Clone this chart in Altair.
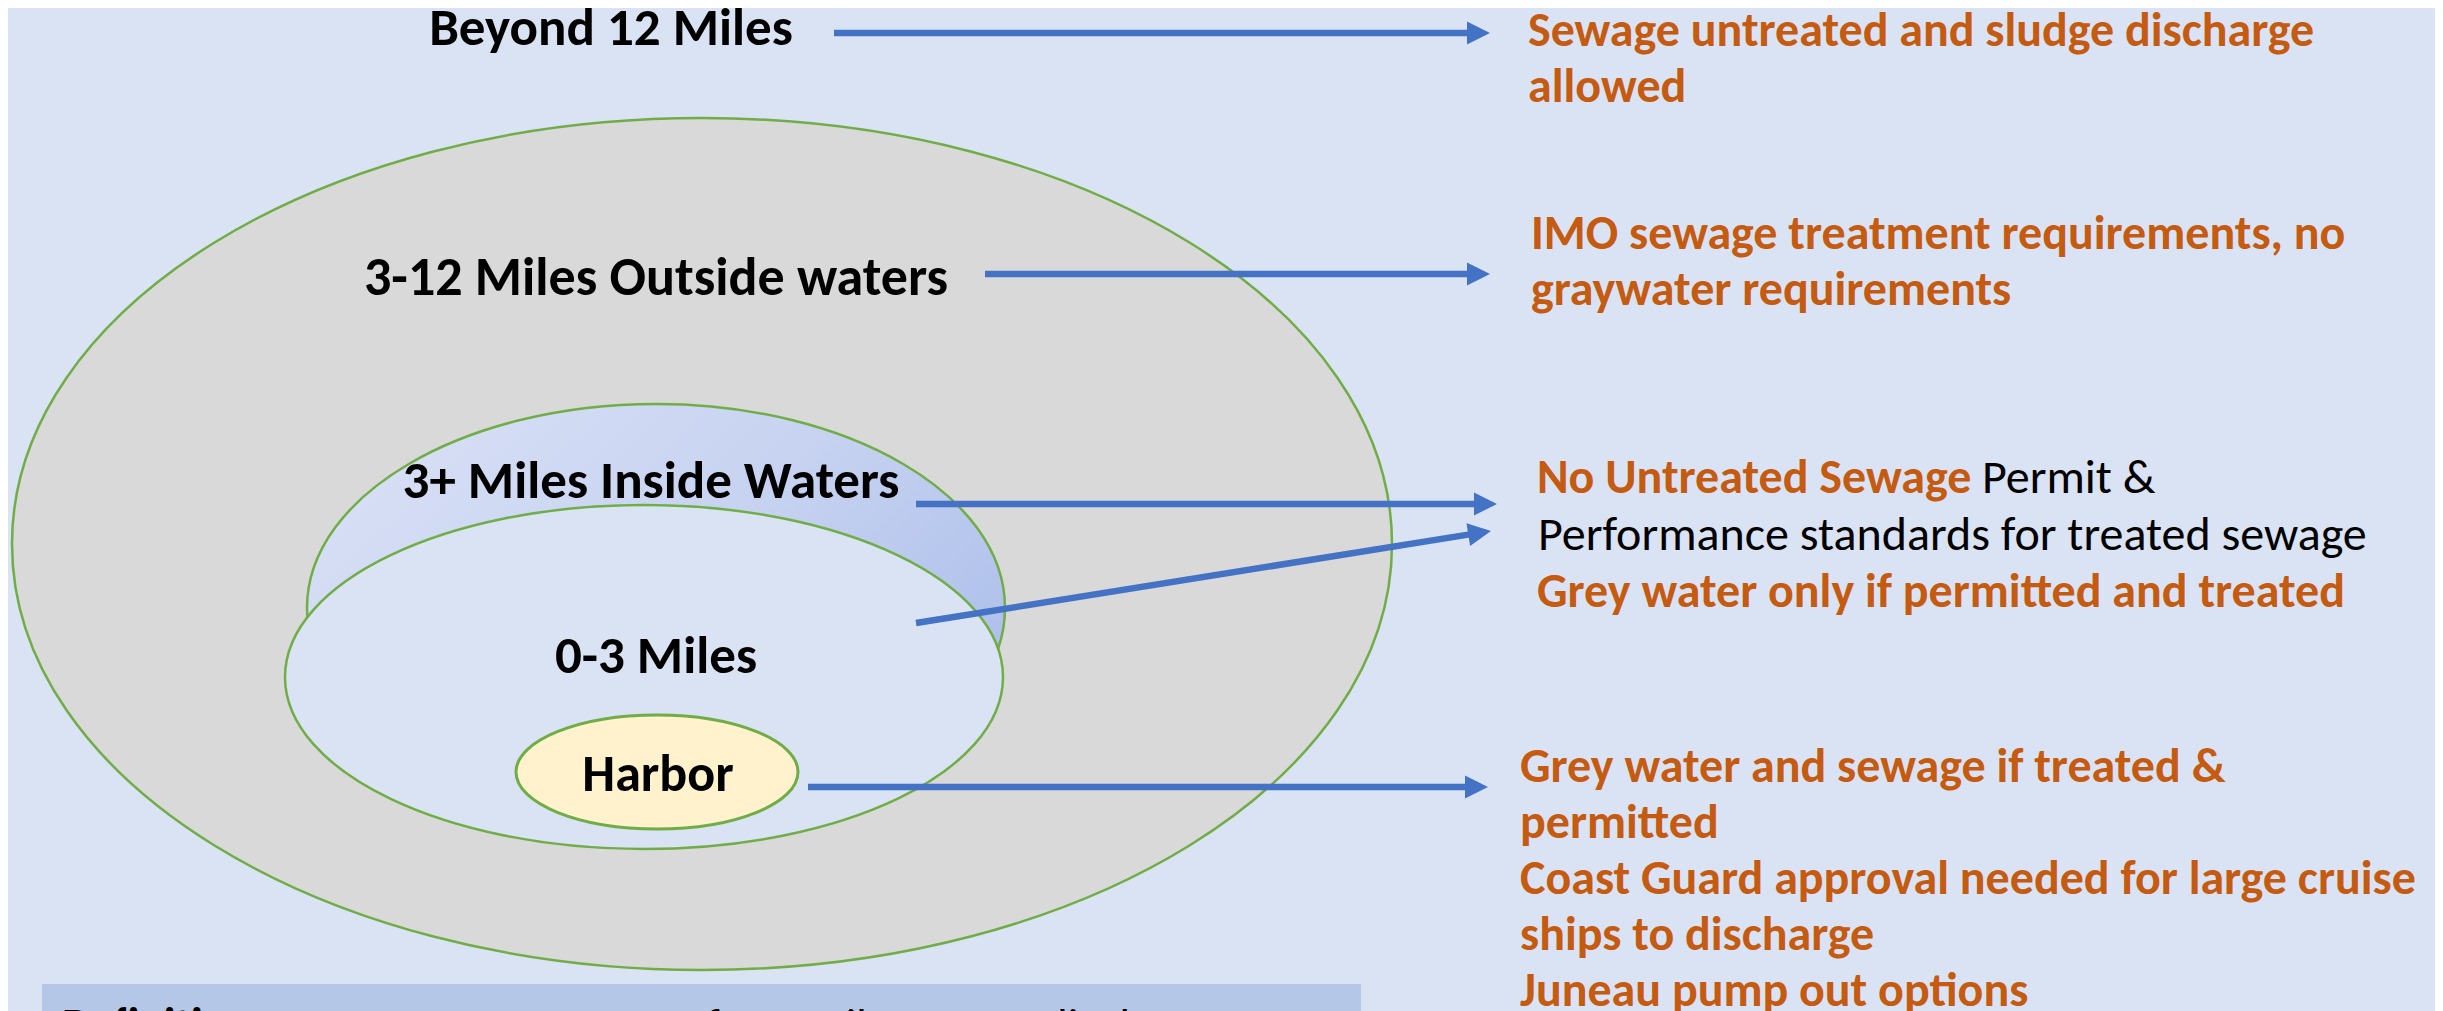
import math
import altair as alt
import pandas as pd

# ------------------------------------------------------------------ data
zone_labels = ["Beyond 12 Miles", "3-12 Miles Outside waters",
               "3+ Miles Inside Waters", "0-3 Miles", "Harbor"]

block1 = ["Sewage untreated and sludge discharge", "allowed"]
block2 = ["IMO sewage treatment requirements, no", "graywater requirements"]
block3_orange_a = "No Untreated Sewage"
block3_black_a = "Permit &"
block3_black_b = "Performance standards for treated sewage"
block3_orange_c = "Grey water only if permitted and treated"
block4 = ["Grey water and sewage if treated &", "permitted",
          "Coast Guard approval needed for large cruise",
          "ships to discharge", "Juneau pump out options"]
definition_bold = "Definitions:"
definition_text = "Sewage = wastewater from toilets or medical"

# ------------------------------------------------------------------ layout (reference pixel frame)
W, H = 2427, 1003
BG = "#DAE3F3"
GREY = "#D9D9D9"
GREEN = "#70AD47"
BLUE = "#4472C4"
ORANGE = "#C55A11"
HARBOR = "#FFF2CC"
DEFBOX = "#B4C7E7"
FONT = "Carlito, Lato, 'Open Sans', sans-serif"

xs = alt.Scale(domain=[8, 8 + W], nice=False, zero=False)
ys = alt.Scale(domain=[8, 8 + H], nice=False, zero=False, reverse=True)
X = alt.X("x:Q", scale=xs, axis=None)
Y = alt.Y("y:Q", scale=ys, axis=None)

layers = []


def ellipse(cx, cy, rx, ry, fill, sw=2.5):
    k = ry / rx
    path = f"M -1 0 A 1 {k:.4f} 0 1 1 1 0 A 1 {k:.4f} 0 1 1 -1 0 Z"
    return alt.Chart(pd.DataFrame({"x": [cx], "y": [cy]})).mark_point(
        shape=path, size=(2 * rx) ** 2, filled=True, fill=fill,
        stroke=GREEN, strokeWidth=sw, opacity=1
    ).encode(x=X, y=Y)


grad = alt.LinearGradient(
    gradient="linear", x1=0, y1=0.2, x2=1, y2=0.8,
    stops=[alt.GradientStop(color="#D9E0F6", offset=0),
           alt.GradientStop(color="#C6D2F0", offset=0.5),
           alt.GradientStop(color="#A9BCEA", offset=1)])

layers.append(ellipse(702, 544, 690, 426, GREY))
layers.append(ellipse(656, 608, 349, 204, grad))
layers.append(ellipse(644, 677, 359, 172, BG))
layers.append(ellipse(657, 772, 141, 57, HARBOR, 3))

# definition box
defbox = pd.DataFrame({"x": [42], "x2": [1361], "y": [984], "y2": [1080]})
layers.append(alt.Chart(defbox).mark_rect(color=DEFBOX, clip=True).encode(
    x=X, x2="x2:Q", y=Y, y2="y2:Q"))

# arrows
arrow_start_x = [834, 985, 916, 916, 808]
arrow_start_y = [33, 274, 504, 623, 787]
arrow_tip_x = [1490, 1490, 1497, 1491, 1488]
arrow_tip_y = [33, 274, 504, 531, 787]
rows_l, rows_h = [], []
for sx, sy, tx, ty in zip(arrow_start_x, arrow_start_y, arrow_tip_x, arrow_tip_y):
    dx, dy = tx - sx, ty - sy
    d = math.hypot(dx, dy)
    ux, uy = dx / d, dy / d
    rows_l.append({"x": sx, "y": sy, "x2": tx - 20 * ux, "y2": ty - 20 * uy})
    ang = math.degrees(math.atan2(dy, dx)) % 360
    rows_h.append({"x": tx, "y": ty, "a": ang})
layers.append(alt.Chart(pd.DataFrame(rows_l)).mark_rule(
    color=BLUE, strokeWidth=6.5, strokeCap="butt").encode(x=X, y=Y, x2="x2:Q", y2="y2:Q"))
layers.append(alt.Chart(pd.DataFrame(rows_h)).mark_point(
    shape="M -2 -1 L 0 0 L -2 1 Z", size=529, filled=True, color=BLUE, opacity=1
).encode(x=X, y=Y, angle=alt.Angle("a:Q", scale=None)))


def text_layer(rows, size, weight, color, align="left"):
    return alt.Chart(pd.DataFrame(rows)).mark_text(
        font=FONT, fontSize=size, fontWeight=weight, color=color,
        align=align, baseline="alphabetic", clip=True
    ).encode(x=X, y=Y, text="t:N")


# zone labels (centered)
zone_cx = [611, 656, 651, 656, 658]
zone_base = [45, 295, 498, 673, 791]
zone_size = [53, 54, 53, 53, 52]
for t, cx, by, fs in zip(zone_labels, zone_cx, zone_base, zone_size):
    layers.append(text_layer([{"x": cx, "y": by, "t": t}], fs, "bold", "black", "center"))

# right-hand texts
orange_rows = []
for t, by in zip(block1, [46, 102]):
    orange_rows.append({"x": 1528, "y": by, "t": t})
for t, by in zip(block2, [249, 305]):
    orange_rows.append({"x": 1531, "y": by, "t": t})
orange_rows.append({"x": 1537, "y": 493, "t": block3_orange_a})
orange_rows.append({"x": 1537, "y": 607, "t": block3_orange_c})
for t, by in zip(block4, [782, 838, 894, 950, 1006]):
    orange_rows.append({"x": 1520, "y": by, "t": t})
layers.append(text_layer(orange_rows, 48, "bold", ORANGE))

black_rows = [{"x": 1982, "y": 493, "t": block3_black_a},
              {"x": 1538, "y": 550, "t": block3_black_b}]
layers.append(text_layer(black_rows, 48, "normal", "black"))

# definition text (mostly below the visible frame)
layers.append(text_layer([{"x": 62, "y": 1040, "t": definition_bold}], 46, "bold", "black"))
layers.append(text_layer([{"x": 292, "y": 1040, "t": definition_text}], 46, "normal", "black"))

chart = alt.layer(*layers).properties(
    width=W, height=H, padding=0,
    autosize=alt.AutoSizeParams(type="none"),
    background=BG,
).configure_view(stroke=None)

chart.save("out.html", embed_options={"renderer": "svg", "actions": False})
